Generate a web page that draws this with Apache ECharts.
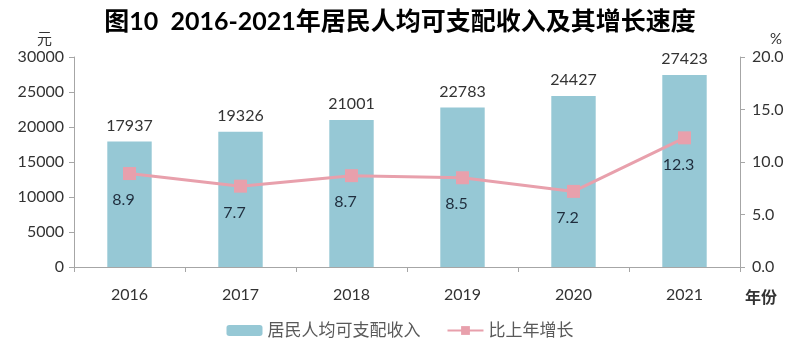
<!DOCTYPE html>
<html>
<head>
<meta charset="utf-8">
<script src="https://cdn.jsdelivr.net/npm/echarts@6/dist/echarts.min.js"></script>
<style>
  html, body { margin: 0; padding: 0; background: #fff; }
  #chart { width: 800px; height: 354px; }
</style>
</head>
<body>
<div id="chart"></div>
<script>
var years = ['2016', '2017', '2018', '2019', '2020', '2021'];
var income = [17937, 19326, 21001, 22783, 24427, 27423];
var growth = [8.9, 7.7, 8.7, 8.5, 7.2, 12.3];

var chart = echarts.init(document.getElementById('chart'));

var font = 'Lato, "Noto Sans CJK SC", sans-serif';
var axisGray = '#a6a6a6';
var textColor = '#333333';

chart.setOption({
    textStyle: { fontFamily: font },
    title: {
        text: '图10  2016-2021年居民人均可支配收入及其增长速度',
        left: 'center',
        top: 4,
        textStyle: { fontSize: 25, fontWeight: 'bold', color: '#000', fontFamily: font }
    },
    legend: {
        bottom: 10,
        left: 'center',
        itemWidth: 36,
        itemHeight: 11,
        itemGap: 26,
        textStyle: { fontSize: 17, color: '#595959', fontFamily: font },
        data: ['居民人均可支配收入', '比上年增长']
    },
    grid: { left: 74, right: 60, top: 57, bottom: 87 },
    xAxis: {
        type: 'category',
        data: years,
        axisLine: { lineStyle: { color: axisGray } },
        axisTick: { show: true, alignWithLabel: false, length: 5, lineStyle: { color: axisGray } },
        axisLabel: { fontSize: 16, color: textColor, margin: 20, fontFamily: font }
    },
    yAxis: [{
        type: 'value',
        min: 0, max: 30000, interval: 5000,
        name: '元',
        nameGap: 10,
        nameTextStyle: { fontSize: 15, color: textColor, align: 'right', padding: [0, 22, 0, 0], fontFamily: font },
        axisLine: { show: true, lineStyle: { color: axisGray } },
        axisTick: { show: true, length: 5, lineStyle: { color: axisGray } },
        splitLine: { show: false },
        axisLabel: { fontSize: 16, color: textColor, margin: 10, fontFamily: font,
                     formatter: function (v) { return String(v); } }
    }, {
        type: 'value',
        min: 0, max: 20, interval: 5,
        name: '%',
        nameGap: 10,
        nameTextStyle: { fontSize: 15, color: textColor, align: 'left', padding: [0, 0, 0, 30], fontFamily: font },
        axisLine: { show: true, lineStyle: { color: axisGray } },
        axisTick: { show: true, length: 5, lineStyle: { color: axisGray } },
        splitLine: { show: false },
        axisLabel: { fontSize: 16, color: textColor, margin: 12, fontFamily: font,
                     formatter: function (v) { return v.toFixed(1); } }
    }],
    graphic: [{
        type: 'text',
        left: 745,
        top: 290,
        style: { text: '年份', fontSize: 16, fontWeight: 'bold', fill: textColor, fontFamily: font }
    }],
    series: [{
        name: '居民人均可支配收入',
        type: 'bar',
        data: income,
        barWidth: '40%',
        itemStyle: { color: '#96c8d5' },
        label: { show: true, position: 'top', distance: 8, fontSize: 16, color: textColor, fontFamily: font }
    }, {
        name: '比上年增长',
        type: 'line',
        yAxisIndex: 1,
        data: growth,
        symbol: 'rect',
        symbolSize: 13,
        lineStyle: { color: '#e8a0ac', width: 3 },
        itemStyle: { color: '#e8a0ac' },
        label: { show: true, position: 'bottom', distance: 12, offset: [-6, 0], fontSize: 16, color: '#1f2d3d',
                 fontFamily: font, formatter: function (p) { return p.value.toFixed(1); } }
    }]
});
</script>
</body>
</html>
